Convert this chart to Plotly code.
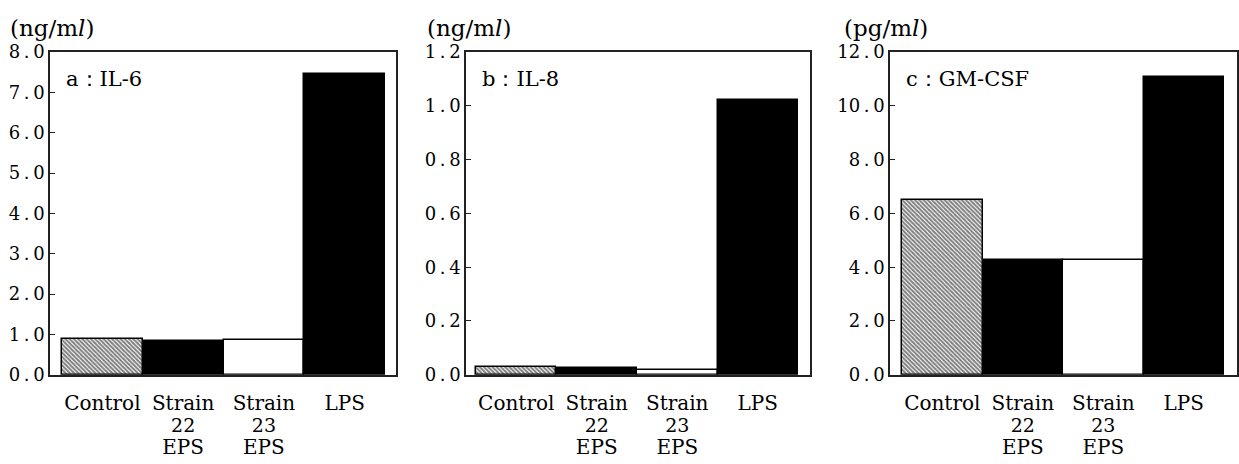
import plotly.graph_objects as go

FONT = "DejaVu Serif"
WORD = "<span style='font-size:20px;font-family:DejaVu Serif'>{}</span>"
NUM = "<span style='font-size:19px;font-family:DejaVu Serif'>{}</span>"

categories = ["Control", "Strain 22 EPS", "Strain 23 EPS", "LPS"]
tick_labels = [
    WORD.format("Control"),
    WORD.format("Strain") + "<br>" + NUM.format("22") + "<br>" + WORD.format("EPS"),
    WORD.format("Strain") + "<br>" + NUM.format("23") + "<br>" + WORD.format("EPS"),
    WORD.format("LPS"),
]
il6 = [0.88, 0.84, 0.86, 7.45]
il8 = [0.028, 0.026, 0.019, 1.022]
gmcsf = [6.5, 4.26, 4.27, 11.08]

panel_titles = ["a：IL-6", "b：IL-8", "c：GM-CSF"]
units = ["(ng/m<i>l</i>)", "(ng/m<i>l</i>)", "(pg/m<i>l</i>)"]
y_max = [8.0, 1.2, 12.0]
y_step = [1.0, 0.2, 2.0]

bar_colors = ["white", "black", "white", "black"]
hatched = [True, False, False, False]

W, H = 1239, 464
x_px = [(50, 396), (466, 810), (890, 1237)]
x_ranges = [(-0.649, 3.636), (-0.624, 3.649), (-0.649, 3.661)]
y_top, y_bot = 43, 381

fig = go.Figure()
series = [il6, il8, gmcsf]
layout = {}
for i, vals in enumerate(series):
    n = "" if i == 0 else str(i + 1)
    xs = list(range(len(categories)))
    px_ = [x for x, h in zip(xs, hatched) if not h]
    fig.add_trace(go.Bar(
        x=px_, y=[vals[x] for x in px_], width=1.0,
        xaxis="x" + n, yaxis="y" + n,
        marker=dict(color=[bar_colors[x] for x in px_],
                    line=dict(color="black", width=1.5)),
        showlegend=False, hoverinfo="skip",
    ))
    hx = [x for x, h in zip(xs, hatched) if h]
    fig.add_trace(go.Bar(
        x=hx, y=[vals[x] for x in hx], width=1.0,
        xaxis="x" + n, yaxis="y" + n,
        marker=dict(color="white",
                    line=dict(color="black", width=1.5),
                    pattern=dict(shape="\\", fgcolor="black", bgcolor="white",
                                 size=3, solidity=0.65)),
        showlegend=False, hoverinfo="skip",
    ))
    x0, x1 = x_px[i]
    nt = int(round(y_max[i] / y_step[i]))
    tv = [k * y_step[i] for k in range(nt + 1)]
    tt = [f"{v:.1f}".replace(".", "\u2009.\u2009") for v in tv]
    layout["xaxis" + n] = dict(
        domain=[x0 / W, x1 / W], anchor="y" + n, range=list(x_ranges[i]),
        tickvals=xs, ticktext=tick_labels,
        ticks="", showline=True, mirror=True, linecolor="#222", linewidth=1.5,
        showgrid=False, zeroline=False, ticklabelstandoff=13,
        tickfont=dict(family=FONT, size=17, color="black"),
    )
    layout["yaxis" + n] = dict(
        domain=[1 - y_bot / H, 1 - y_top / H], anchor="x" + n,
        range=[0, y_max[i]], tickvals=tv, ticktext=tt,
        ticks="inside", ticklen=5, tickcolor="#222", tickwidth=1.2,
        showline=True, mirror=True, linecolor="#222", linewidth=1.5,
        showgrid=False, zeroline=False,
        tickfont=dict(family=FONT, size=18, color="black"),
    )

annotations = []
unit_x = [8, 425, 842]
title_x = [64, 480, 904]
for i in range(3):
    annotations.append(dict(
        x=unit_x[i] / W, y=1 - 18 / H, xref="paper", yref="paper",
        xanchor="left", yanchor="middle", showarrow=False, text=units[i],
        font=dict(family=FONT, size=23, color="black")))
    annotations.append(dict(
        x=title_x[i] / W, y=1 - 71 / H, xref="paper", yref="paper",
        xanchor="left", yanchor="middle", showarrow=False, text=panel_titles[i],
        font=dict(family=FONT, size=21, color="black")))

fig.update_layout(
    width=W, height=H, margin=dict(l=0, r=0, t=0, b=0),
    paper_bgcolor="white", plot_bgcolor="white",
    barmode="overlay", bargap=0, annotations=annotations, **layout,
)
fig.write_html("out.html")
